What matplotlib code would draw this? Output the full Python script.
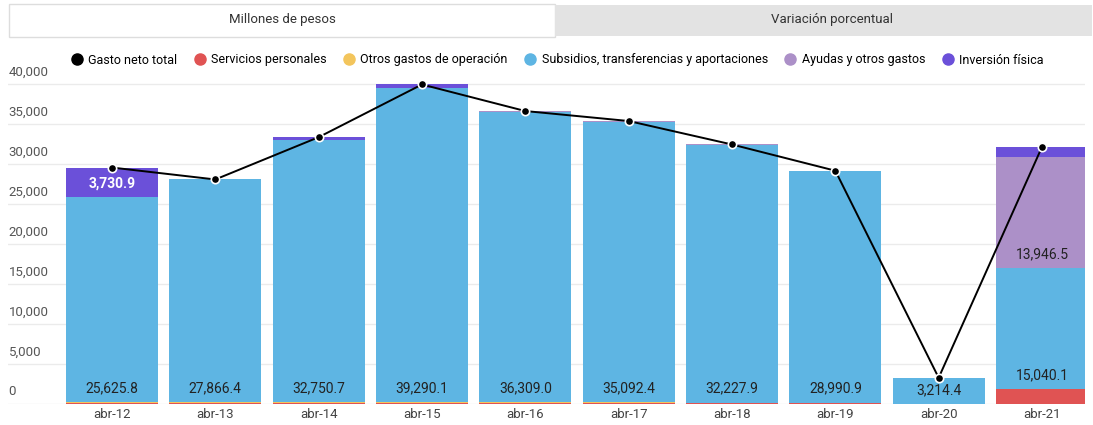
import numpy as np
import matplotlib.pyplot as plt
from matplotlib.patches import Rectangle
from matplotlib.lines import Line2D

plt.rcParams['font.family'] = ['Roboto', 'DejaVu Sans']

categorias = ['abr-12', 'abr-13', 'abr-14', 'abr-15', 'abr-16', 'abr-17', 'abr-18', 'abr-19', 'abr-20', 'abr-21']
servicios = [110, 110, 110, 110, 110, 110, 110, 110, 0, 1900]
otros = [90, 90, 90, 90, 90, 90, 60, 60, 0, 0]
subsidios = [25625.8, 27866.4, 32750.7, 39290.1, 36309.0, 35092.4, 32227.9, 28990.9, 3214.4, 15040.1]
ayudas = [0, 0, 0, 0, 110, 80, 40, 0, 0, 13946.5]
inversion = [3730.9, 0, 400, 450, 0, 0, 0, 0, 0, 1250]
total = [29556.7, 28066.4, 33350.7, 39940.1, 36619.0, 35372.4, 32437.9, 29160.9, 3280.0, 32136.6]
yticks = [0, 5000, 10000, 15000, 20000, 25000, 30000, 35000, 40000]

series = [('Servicios personales', servicios, '#E05353'),
          ('Otros gastos de operación', otros, '#F3C55C'),
          ('Subsidios, transferencias y aportaciones', subsidios, '#5EB5E3'),
          ('Ayudas y otros gastos', ayudas, '#AC90C8'),
          ('Inversión física', inversion, '#6B50D9')]

fig = plt.figure(figsize=(10.93, 4.25), dpi=100)
ax = fig.add_axes([8/1093, 21/425, 1077/1093, 328/425])

x = np.arange(len(categorias))
base = np.zeros(len(categorias))
for nombre, vals, color in series:
    vals = np.array(vals)
    ax.bar(x, vals, 0.89, bottom=base, color=color, zorder=2)
    for i in range(len(x)):
        if vals[i] >= 3000:
            if nombre == 'Inversión física':
                ax.annotate(f'{vals[i]:,.1f}', (x[i], base[i]), xytext=(0, 5), textcoords='offset points',
                            ha='center', va='bottom', fontsize=10, color='white', fontweight='bold', zorder=4)
            else:
                ax.annotate(f'{vals[i]:,.1f}', (x[i], base[i]), xytext=(0, 5), textcoords='offset points',
                            ha='center', va='bottom', fontsize=10, color='#222222', zorder=4)
    base = base + vals

ax.plot(x, total, color='black', lw=1.4, marker='o', ms=6, mfc='black', mec='white', mew=1.2, zorder=5)

ax.set_xlim(-1.006, 9.416)
ax.set_ylim(0, 41000)
for v in yticks:
    ax.axhline(v, color='#EBEBEB', lw=1, zorder=0)
    ax.text(-1.0, v + 700, f'{v:,}', ha='left', va='bottom', fontsize=9.5, color='#555555')
ax.set_xticks(x)
ax.set_xticklabels(categorias, fontsize=9.5, color='#444444')
ax.tick_params(axis='x', length=0, pad=3)
ax.set_yticks([])
for s in ax.spines.values():
    s.set_visible(False)

# pestañas
fig.patches.append(Rectangle((9/1093, 1 - 37/425), 546/1093, 33/425, transform=fig.transFigure,
                             facecolor='white', edgecolor='#DDDDDD', lw=1))
fig.patches.append(Rectangle((555/1093, 1 - 36/425), 537/1093, 31/425, transform=fig.transFigure,
                             facecolor='#E3E3E3', edgecolor='none'))
fig.text(282/1093, 1 - 20/425, 'Millones de pesos', ha='center', va='center', fontsize=9.5, color='#333333')
fig.text(832/1093, 1 - 20/425, 'Variación porcentual', ha='center', va='center', fontsize=9.5, color='#333333')

handles = [Line2D([], [], ls='none', marker='o', ms=8, color='black')]
labels = ['Gasto neto total']
for nombre, vals, color in series:
    handles.append(Line2D([], [], ls='none', marker='o', ms=8, color=color))
    labels.append(nombre)
fig.legend(handles, labels, ncol=6, loc='center', bbox_to_anchor=(557/1093, 1 - 60/425), frameon=False,
           fontsize=9, handletextpad=0.4, columnspacing=1.3, handlelength=1.0)

plt.savefig('out.png', dpi=100)
